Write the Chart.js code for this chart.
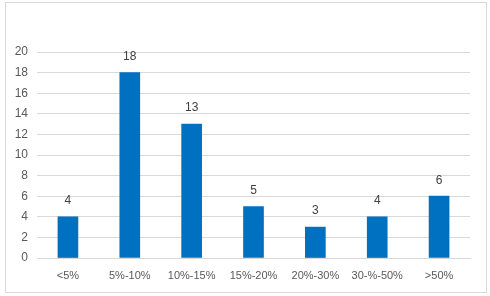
<!DOCTYPE html>
<html>
<head>
<meta charset="utf-8">
<script src="https://cdn.jsdelivr.net/npm/chart.js@4/dist/chart.umd.min.js"></script>
<style>
  html, body { margin: 0; padding: 0; background: #fff; }
  #wrap { position: relative; width: 490px; height: 296px; }
  #frame { position: absolute; left: 5px; top: 2px; width: 480px; height: 289px; border: 1px solid #d9d9d9; pointer-events: none; }
</style>
</head>
<body>
<div id="wrap">
  <canvas id="chart" width="490" height="296"></canvas>
  <div id="frame"></div>
</div>
<script>
const categories = ['<5%', '5%-10%', '10%-15%', '15%-20%', '20%-30%', '30-%-50%', '>50%'];
const counts = [4, 18, 13, 5, 3, 4, 6];
const yMax = 20;
const yStep = 2;

// value labels above bars
const barLabels = {
  id: 'barLabels',
  afterDatasetsDraw(chart) {
    const ctx = chart.ctx;
    const meta = chart.getDatasetMeta(0);
    ctx.save();
    ctx.font = '12px "Liberation Sans", Arial, sans-serif';
    ctx.fillStyle = '#404040';
    ctx.textAlign = 'center';
    ctx.textBaseline = 'middle';
    meta.data.forEach((bar, i) => {
      ctx.fillText(counts[i], bar.x, bar.y - 16);
    });
    ctx.restore();
  }
};

new Chart(document.getElementById('chart'), {
  type: 'bar',
  plugins: [barLabels],
  data: {
    labels: categories,
    datasets: [{
      data: counts,
      backgroundColor: '#0070C0',
      barThickness: 20,
    }]
  },
  options: {
    responsive: false,
    animation: false,
    layout: {
      padding: { top: 52, right: 20, bottom: 14, left: 0 }
    },
    plugins: {
      legend: { display: false },
      tooltip: { enabled: false },
    },
    scales: {
      x: {
        border: { display: true, color: '#d9d9d9' },
        grid: { display: false, drawTicks: false },
        ticks: {
          color: '#595959',
          padding: 11,
          maxRotation: 0,
          autoSkip: false,
          font: { family: '"Liberation Sans", Arial, sans-serif', size: 11 }
        },
        afterFit(scale) { scale.height = 24; }
      },
      y: {
        min: 0,
        max: yMax,
        border: { display: false },
        grid: { color: '#d9d9d9', drawTicks: false },
        ticks: {
          stepSize: yStep,
          color: '#595959',
          padding: 9,
          font: { family: '"Liberation Sans", Arial, sans-serif', size: 12 }
        },
        afterFit(scale) { scale.width = 37; }
      }
    }
  }
});
</script>
</body>
</html>
